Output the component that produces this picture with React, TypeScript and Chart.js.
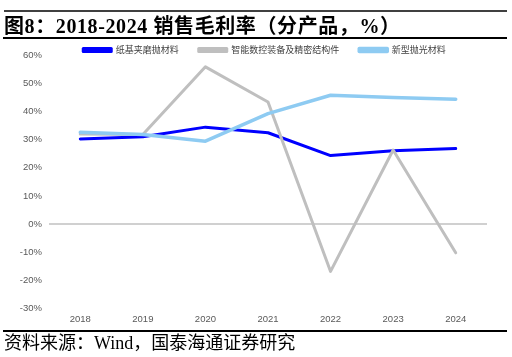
import React, { useEffect, useRef } from "react";
import { Chart, registerables } from "chart.js";

Chart.register(...registerables);

const years = ["2018", "2019", "2020", "2021", "2022", "2023", "2024"];
const paperAbrasive = [30.2, 31.0, 34.4, 32.4, 24.3, 26.0, 26.8];
const cncEquipment = [32.0, 31.8, 55.8, 43.3, -16.8, 26.3, -10.2];
const newPolishing = [32.6, 31.8, 29.4, 39.2, 45.7, 44.9, 44.3];
const seriesNames = ["纸基夹磨抛材料", "智能数控装备及精密结构件", "新型抛光材料"];
const yTicks = { min: -30, max: 60, step: 10 };

const titleText = "图8：2018-2024 销售毛利率（分产品，%）";
const sourceText = "资料来源：Wind，国泰海通证券研究";

export default function App() {
  const ref = useRef<HTMLCanvasElement | null>(null);

  useEffect(() => {
    if (!ref.current) return;
    const legendFix = {
      id: "legendFix",
      beforeLayout(chart: any) {
        const lg = chart.legend;
        if (lg && !lg.__patched) {
          const orig = lg.fit;
          lg.fit = function () {
            orig.call(this);
            this.height = 31;
          };
          lg.__patched = true;
        }
      },
      afterLayout(chart: any) {
        const lg = chart.legend;
        if (lg) {
          lg.left += 21;
          lg.right += 21;
          lg.top += 1.5;
          lg.bottom += 1.5;
        }
      },
    };
    const chart = new Chart(ref.current, {
      type: "line",
      data: {
        labels: years,
        datasets: [
          {
            label: seriesNames[0],
            data: paperAbrasive,
            borderColor: "#0000FF",
            backgroundColor: "#0000FF",
            borderWidth: 3,
            pointRadius: 0,
            order: 2,
          },
          {
            label: seriesNames[1],
            data: cncEquipment,
            borderColor: "#BFBFBF",
            backgroundColor: "#BFBFBF",
            borderWidth: 3,
            pointRadius: 0,
            order: 1,
          },
          {
            label: seriesNames[2],
            data: newPolishing,
            borderColor: "#8ECBF2",
            backgroundColor: "#8ECBF2",
            borderWidth: 3.5,
            pointRadius: 0,
            order: 0,
          },
        ],
      },
      options: {
        responsive: false,
        animation: false,
        devicePixelRatio: 1,
        layout: { padding: { left: 0, right: 25, top: 0, bottom: 5 } },
        elements: {
          line: { tension: 0, borderJoinStyle: "round", borderCapStyle: "round" },
        },
        plugins: {
          tooltip: { enabled: false },
          legend: {
            display: true,
            position: "top",
            labels: {
              boxWidth: 28,
              boxHeight: 3,
              padding: 20,
              color: "#404040",
              sort: (a: any, b: any) => a.datasetIndex - b.datasetIndex,
              font: { family: "'Noto Sans CJK SC', 'Liberation Sans', sans-serif", size: 9 },
            },
          },
        },
        scales: {
          x: {
            offset: true,
            grid: { display: false, drawTicks: false },
            border: { display: false },
            ticks: {
              color: "#595959",
              padding: 5,
              maxRotation: 0,
              font: { family: "'Liberation Sans', Arial, sans-serif", size: 9.5 },
            },
          },
          y: {
            min: yTicks.min,
            max: yTicks.max,
            afterFit(scale: any) {
              scale.width = 49;
            },
            grid: {
              drawTicks: false,
              lineWidth: 2,
              color: (ctx: any) => (ctx.tick && ctx.tick.value === 0 ? "#D0D0D0" : "rgba(0,0,0,0)"),
            },
            border: { display: false },
            ticks: {
              stepSize: yTicks.step,
              padding: 7,
              color: "#595959",
              font: { family: "'Liberation Sans', Arial, sans-serif", size: 9.5 },
              callback: (v: any) => `${v}%`,
            },
          },
        },
      },
      plugins: [legendFix],
    });
    return () => chart.destroy();
  }, []);

  return (
    <div
      style={{
        position: "absolute",
        left: 0,
        top: 0,
        width: 512,
        height: 357,
        background: "#fff",
        overflow: "hidden",
      }}
    >
      <canvas
        ref={ref}
        width={512}
        height={311}
        style={{ position: "absolute", left: 0, top: 24, width: 512, height: 311 }}
      />
      <div style={{ position: "absolute", left: 4, top: 10, width: 503, height: 2, background: "#404040" }} />
      <div
        style={{
          position: "absolute",
          left: 4,
          top: 14,
          whiteSpace: "pre",
          fontFamily: "'Liberation Serif', 'Noto Sans CJK SC', serif",
          fontWeight: "bold",
          fontSize: 20,
          letterSpacing: "0.6px",
          lineHeight: "24px",
          color: "#000",
          zIndex: 2,
        }}
      >
        {titleText}
      </div>
      <div style={{ position: "absolute", left: 3, top: 37, width: 504, height: 1.5, background: "#000", zIndex: 2 }} />
      <div style={{ position: "absolute", left: 3, top: 330, width: 504, height: 1.5, background: "#000", zIndex: 2 }} />
      <div
        style={{
          position: "absolute",
          left: 4,
          top: 332,
          whiteSpace: "pre",
          fontFamily: "'Liberation Serif', 'Noto Sans CJK SC', serif",
          fontSize: 18,
          lineHeight: "22px",
          color: "#000",
          zIndex: 2,
        }}
      >
        {sourceText}
      </div>
    </div>
  );
}
